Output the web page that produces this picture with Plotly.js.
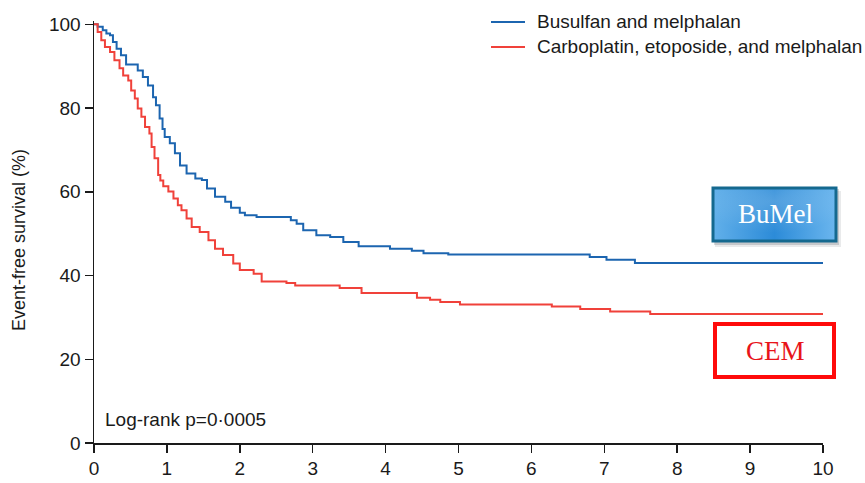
<!DOCTYPE html>
<html>
<head>
<meta charset="utf-8">
<script src="https://cdn.plot.ly/plotly-3.0.1.min.js"></script>
<style>
  html, body { margin: 0; padding: 0; background: #fff; }
  #chart { width: 865px; height: 483px; }
</style>
</head>
<body>
<div id="chart"></div>
<script>
// Kaplan-Meier event-free survival, years from randomisation
const bumelName = 'Busulfan and melphalan';
const bumelYears = [0, 0.05, 0.12, 0.17, 0.22, 0.26, 0.31, 0.37, 0.44, 0.60,
  0.67, 0.74, 0.81, 0.85, 0.90, 0.94, 0.97, 1.04, 1.11, 1.18,
  1.27, 1.39, 1.48, 1.55, 1.66, 1.80, 1.88, 2.00, 2.07, 2.23,
  2.70, 2.78, 2.87, 3.05, 3.24, 3.42, 3.63, 4.06, 4.36, 4.52,
  4.86, 6.80, 7.03, 7.42, 10.0];
const bumelEFS = [100, 99.4, 98.6, 97.8, 97.4, 95.8, 94.2, 92.6, 90.4, 89.0,
  87.4, 85.4, 82.6, 80.7, 77.5, 75.0, 73.1, 71.6, 69.2, 66.3,
  64.4, 63.2, 62.8, 60.8, 58.8, 57.6, 56.2, 55.0, 54.4, 54.0,
  53.2, 52.4, 50.8, 49.6, 49.2, 48.0, 47.0, 46.4, 45.9, 45.3,
  45.0, 44.4, 43.8, 43.0, 43.0];

const cemName = 'Carboplatin, etoposide, and melphalan';
const cemYears = [0, 0.05, 0.10, 0.15, 0.22, 0.28, 0.35, 0.40, 0.47, 0.51,
  0.56, 0.60, 0.65, 0.70, 0.76, 0.79, 0.83, 0.88, 0.91, 0.95,
  1.02, 1.09, 1.15, 1.20, 1.27, 1.34, 1.45, 1.57, 1.66, 1.77,
  1.91, 2.00, 2.19, 2.30, 2.64, 2.76, 3.37, 3.67, 4.43, 4.61,
  4.75, 5.02, 6.28, 6.67, 7.08, 7.63, 10.0];
const cemEFS = [100, 98.2, 96.2, 94.6, 93.4, 91.4, 89.5, 87.8, 86.6, 84.2,
  82.3, 79.9, 77.9, 75.5, 73.9, 70.7, 68.0, 64.0, 62.7, 61.3,
  60.1, 58.4, 56.8, 55.6, 53.6, 51.6, 50.4, 48.4, 46.4, 44.9,
  42.9, 41.3, 40.4, 38.6, 38.2, 37.6, 37.0, 35.8, 34.7, 34.2,
  33.7, 33.1, 32.6, 32.0, 31.4, 30.8, 30.8];

const xTicks = [0, 1, 2, 3, 4, 5, 6, 7, 8, 9, 10];
const yTicks = [0, 20, 40, 60, 80, 100];
const yTitle = 'Event-free survival (%)';
const pValueText = 'Log-rank p=0\u00b70005';
const bumelTag = 'BuMel';
const cemTag = 'CEM';

const blue = '#1c65b0';
const red = '#f0413a';
const ink = '#1a1a1a';
const sans = 'Liberation Sans, Arial, sans-serif';
const serif = 'Liberation Serif, Times New Roman, serif';

const traces = [
  { x: bumelYears, y: bumelEFS, name: bumelName, type: 'scatter', mode: 'lines',
    line: { color: blue, width: 2, shape: 'hv' }, hoverinfo: 'skip' },
  { x: cemYears, y: cemEFS, name: cemName, type: 'scatter', mode: 'lines',
    line: { color: red, width: 2, shape: 'hv' }, hoverinfo: 'skip' }
];

// plot area in pixels, used to convert label positions to paper units
const W = 865, H = 483;
const M = { l: 94, r: 42, t: 21, b: 40 };
const pw = W - M.l - M.r, ph = H - M.t - M.b;
const px = v => (v - M.l) / pw;
const py = v => (H - M.b - v) / ph;

// gradient tile for the BuMel tag
const tagSvg = '<svg xmlns="http://www.w3.org/2000/svg" width="124" height="54">' +
  '<defs><linearGradient id="g" x1="0" y1="0" x2="1" y2="0">' +
  '<stop offset="0" stop-color="#62b0ea"/><stop offset="0.5" stop-color="#2c8bd8"/>' +
  '<stop offset="1" stop-color="#6bb6ee"/></linearGradient>' +
  '<radialGradient id="h" cx="0.5" cy="0.25" r="0.6"><stop offset="0" stop-color="#ffffff" stop-opacity="0.18"/>' +
  '<stop offset="1" stop-color="#ffffff" stop-opacity="0"/></radialGradient></defs>' +
  '<rect width="124" height="54" fill="url(#g)"/><rect width="124" height="54" fill="url(#h)"/></svg>';

const shapes = [
  // soft drop shadow behind the BuMel tag
  { type: 'rect', xref: 'paper', yref: 'paper', layer: 'below',
    x0: px(715), x1: px(841), y0: py(247), y1: py(191),
    fillcolor: 'rgba(40,50,60,0.10)', line: { width: 0 } },
  { type: 'rect', xref: 'paper', yref: 'paper', layer: 'below',
    x0: px(714), x1: px(839), y0: py(245), y1: py(189),
    fillcolor: 'rgba(40,50,60,0.18)', line: { width: 0 } },
  // BuMel tag border
  { type: 'rect', xref: 'paper', yref: 'paper',
    x0: px(713), x1: px(836), y0: py(241), y1: py(188),
    fillcolor: 'rgba(0,0,0,0)', line: { color: '#15698f', width: 3 } },
  // CEM tag
  { type: 'rect', xref: 'paper', yref: 'paper',
    x0: px(715), x1: px(834), y0: py(377), y1: py(324),
    fillcolor: '#ffffff', line: { color: '#ff0a0a', width: 4 } },
  // legend keys
  { type: 'line', xref: 'paper', yref: 'paper',
    x0: px(491), x1: px(525), y0: py(22), y1: py(22), line: { color: blue, width: 2 } },
  { type: 'line', xref: 'paper', yref: 'paper',
    x0: px(491), x1: px(525), y0: py(47), y1: py(47), line: { color: red, width: 2 } }
];

const annotations = [
  { text: bumelName, xref: 'paper', yref: 'paper', x: px(535), y: py(22),
    xanchor: 'left', yanchor: 'middle', showarrow: false,
    font: { family: sans, size: 19, color: ink } },
  { text: cemName, xref: 'paper', yref: 'paper', x: px(535), y: py(47),
    xanchor: 'left', yanchor: 'middle', showarrow: false,
    font: { family: sans, size: 19, color: ink } },
  { text: pValueText, xref: 'paper', yref: 'paper', x: px(103), y: py(419),
    xanchor: 'left', yanchor: 'middle', showarrow: false,
    font: { family: sans, size: 19, color: ink } },
  { text: yTitle, xref: 'paper', yref: 'paper', x: px(19), y: py(240),
    xanchor: 'center', yanchor: 'middle', textangle: -90, showarrow: false,
    font: { family: sans, size: 18, color: ink } },
  { text: bumelTag, xref: 'paper', yref: 'paper', x: px(775), y: py(214),
    xanchor: 'center', yanchor: 'middle', showarrow: false,
    font: { family: serif, size: 27, color: '#ffffff' } },
  { text: cemTag, xref: 'paper', yref: 'paper', x: px(775), y: py(351),
    xanchor: 'center', yanchor: 'middle', showarrow: false,
    font: { family: serif, size: 27, color: '#e8141a' } }
];

const layout = {
  width: W, height: H,
  margin: M,
  paper_bgcolor: '#ffffff', plot_bgcolor: '#ffffff',
  showlegend: false,
  xaxis: {
    range: [0, 10], tickvals: xTicks, ticktext: xTicks.map(String),
    showgrid: false, zeroline: false, showline: true, linecolor: ink, linewidth: 1.5,
    ticks: 'outside', ticklen: 8, tickwidth: 1.5, tickcolor: ink,
    tickfont: { family: sans, size: 19, color: ink }, fixedrange: true
  },
  yaxis: {
    range: [0, 100.8], tickvals: yTicks, ticktext: yTicks.map(String),
    showgrid: false, zeroline: false, showline: true, linecolor: ink, linewidth: 1.5,
    ticks: 'outside', ticklen: 8, tickwidth: 1.5, tickcolor: ink,
    tickfont: { family: sans, size: 19, color: ink }, fixedrange: true
  },
  images: [{
    source: 'data:image/svg+xml;charset=utf-8,' + encodeURIComponent(tagSvg),
    xref: 'paper', yref: 'paper', x: px(713), y: py(188),
    sizex: px(836) - px(713), sizey: py(188) - py(241),
    xanchor: 'left', yanchor: 'top', sizing: 'stretch', layer: 'above'
  }],
  shapes: shapes,
  annotations: annotations
};

Plotly.newPlot('chart', traces, layout, { displayModeBar: false, staticPlot: true });
</script>
</body>
</html>
